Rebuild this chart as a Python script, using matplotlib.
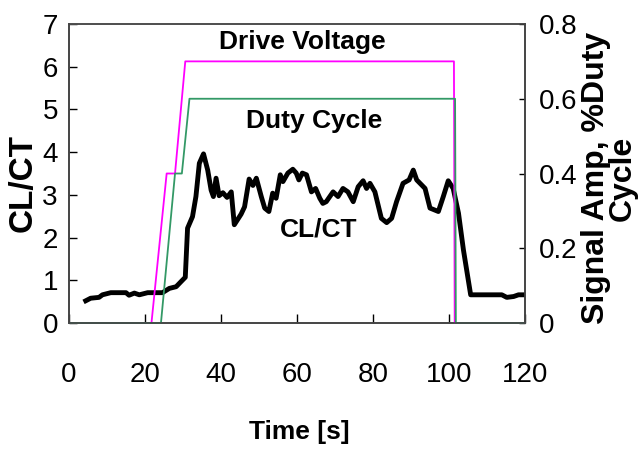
import matplotlib
matplotlib.use('Agg')
import matplotlib.pyplot as plt

plt.rcParams['font.family'] = ['Liberation Sans', 'DejaVu Sans']

# CL/CT trace (left axis)
t_clct = [4.4, 5.7, 7.9, 8.8, 11.0, 15.0, 15.8, 17.2, 18.5, 20.7, 24.6, 26.4, 28.2,
          29.5, 30.6, 31.2, 32.5, 33.4, 34.3, 35.4, 36.5, 37.4, 38.0, 38.7, 39.5,
          40.5, 41.6, 42.7, 43.5, 45.3, 46.2, 47.4, 48.4, 49.3, 50.6, 51.5, 52.6,
          53.6, 54.5, 55.6, 56.3, 57.6, 58.9, 59.8, 60.5, 61.4, 62.5, 63.8, 64.9,
          66.0, 66.8, 67.7, 69.5, 70.8, 72.1, 73.4, 74.8, 76.1, 77.4, 78.3, 79.2,
          80.5, 82.2, 83.6, 84.9, 86.2, 87.9, 89.5, 90.6, 91.5, 93.7, 95.0, 97.2,
          98.5, 99.8, 101.1, 102.5, 103.8, 105.7, 113.9, 115.2, 117.0, 118.3, 120.0]
clct = [0.52, 0.58, 0.60, 0.66, 0.71, 0.71, 0.65, 0.70, 0.66, 0.71, 0.71, 0.81, 0.85,
        0.97, 1.07, 2.22, 2.49, 2.96, 3.74, 3.96, 3.58, 3.11, 2.96, 3.39, 2.98,
        3.05, 2.94, 3.07, 2.30, 2.55, 2.72, 3.37, 3.22, 3.39, 2.96, 2.69, 2.61,
        3.04, 2.92, 3.47, 3.31, 3.51, 3.60, 3.51, 3.35, 3.51, 3.47, 3.07, 3.15,
        2.92, 2.80, 2.84, 3.07, 2.96, 3.15, 3.07, 2.84, 3.19, 3.33, 3.15, 3.27,
        3.07, 2.45, 2.35, 2.45, 2.84, 3.27, 3.35, 3.58, 3.35, 3.15, 2.69, 2.61,
        2.96, 3.33, 3.15, 2.57, 1.71, 0.66, 0.66, 0.60, 0.62, 0.66, 0.66]

# drive voltage and duty cycle (right axis)
t_drive = [0, 21.7, 25.7, 27.9, 30.6, 101.3, 101.5, 120]
drive = [0, 0, 0.4, 0.4, 0.7, 0.7, 0, 0]
t_duty = [0, 24.2, 27.9, 29.7, 31.7, 101.6, 101.8, 120]
duty = [0, 0, 0.4, 0.4, 0.6, 0.6, 0, 0]

x_ticks = [0, 20, 40, 60, 80, 100, 120]
left_ticks = [0, 1, 2, 3, 4, 5, 6, 7]
right_ticks = [0, 0.2, 0.4, 0.6, 0.8]
right_labels = ['0', '0.2', '0.4', '0.6', '0.8']

fig = plt.figure(figsize=(6.39, 4.5), dpi=100)
ax = fig.add_axes([69/639, 127/450, 456/639, 299/450])
ax2 = ax.twinx()

ax.plot(t_clct, clct, color='black', lw=3.5, solid_joinstyle='round', zorder=3)
ax2.plot(t_drive, drive, color='#ff00ff', lw=1.3, clip_on=False)
ax2.plot(t_duty, duty, color='#339966', lw=1.3, clip_on=False)

ax.set_xlim(0, 120)
ax.set_ylim(0, 7)
ax2.set_ylim(0, 0.8)
ax.set_xticks(x_ticks)
ax.set_yticks(left_ticks)
ax2.set_yticks(right_ticks)
ax2.set_yticklabels(right_labels)

ax.tick_params(axis='x', direction='in', length=6.5, width=1, pad=28, labelsize=20)
ax.tick_params(axis='y', direction='in', length=5.8, width=1, pad=8, labelsize=20)
ax2.tick_params(axis='y', direction='in', length=4.5, width=1, pad=10, labelsize=20)

for a in (ax, ax2):
    for side in a.spines:
        a.spines[side].set_color('#444444')
        a.spines[side].set_linewidth(1.2)
ax.spines['top'].set_color('#808080')

ax.text(61.5, 6.58, 'Drive Voltage', ha='center', va='center', fontsize=19, fontweight='bold')
ax.text(64.6, 4.73, 'Duty Cycle', ha='center', va='center', fontsize=19, fontweight='bold')
ax.text(65.7, 2.18, 'CL/CT', ha='center', va='center', fontsize=19, fontweight='bold')

fig.text(23.5/639, 1 - 183/450, 'CL/CT', rotation=90, ha='center', va='center',
         fontsize=24, fontweight='bold')
fig.text(609/639, 1 - 178/450, 'Signal Amp, %Duty\nCycle', rotation=90, ha='center',
         va='center', fontsize=23, fontweight='bold', linespacing=0.85)
fig.text(299/639, 1 - 432/450, 'Time [s]', ha='center', va='center', fontsize=19,
         fontweight='bold')

fig.savefig('out.png', dpi=100)
